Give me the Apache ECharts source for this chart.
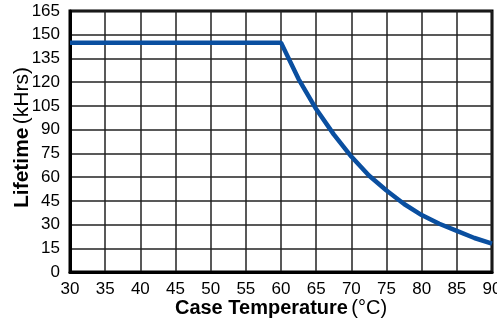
<!DOCTYPE html>
<html>
<head>
<meta charset="UTF-8">
<title>Lifetime vs Case Temperature</title>
<script src="https://cdn.jsdelivr.net/npm/echarts@6/dist/echarts.min.js"></script>
<style>
html, body { margin: 0; padding: 0; background: #fff; }
#main { width: 497px; height: 319px; }
</style>
</head>
<body>
<div id="main"></div>
<script>
// case temperature (°C) and lifetime (kHrs)
var temps = [30, 60, 62.5, 65, 67.5, 70, 72.5, 75, 77.5, 80, 82.5, 85, 87.5, 90];
var lifetime = [145, 145, 122, 103, 87, 73, 61, 51.5, 43, 36, 30.5, 26, 21.5, 18];

var pts = [];
for (var i = 0; i < temps.length; i++) {
	pts.push([temps[i], lifetime[i]]);
}

var myChart = echarts.init(document.getElementById('main'));
var option = {
	animation: false,
	grid: {
		left: 70,
		right: 5,
		top: 11,
		bottom: 47,
		containLabel: false,
		outerBoundsMode: 'none',
		show: true,
		borderColor: '#000',
		borderWidth: 3
	},
	xAxis: {
		type: 'value',
		min: 30,
		max: 90,
		interval: 5,
		name: '{b|Case Temperature} {n|(°C)}',
		nameLocation: 'middle',
		nameGap: 26,
		nameMoveOverlap: false,
		nameTextStyle: {
			verticalAlign: 'top',
			rich: {
				b: { fontFamily: 'Liberation Sans', fontWeight: 'bold', fontSize: 20, color: '#000' },
				n: { fontFamily: 'Liberation Sans', fontSize: 20, color: '#000' }
			}
		},
		axisLine: { lineStyle: { color: '#000', width: 3 } },
		axisTick: { show: false },
		axisLabel: { fontFamily: 'Liberation Sans', fontSize: 17, color: '#000', margin: 9, hideOverlap: false },
		splitLine: { lineStyle: { color: '#222', width: 1.5 } }
	},
	yAxis: {
		type: 'value',
		min: 0,
		max: 165,
		interval: 15,
		name: '{b|Lifetime} {n|(kHrs)}',
		nameLocation: 'middle',
		nameGap: 37,
		nameMoveOverlap: false,
		nameTextStyle: {
			padding: [0, 0, 0, 8],
			rich: {
				b: { fontFamily: 'Liberation Sans', fontWeight: 'bold', fontSize: 21, color: '#000' },
				n: { fontFamily: 'Liberation Sans', fontSize: 21, color: '#000' }
			}
		},
		axisLine: { show: true, lineStyle: { color: '#000', width: 3 } },
		axisTick: { show: false },
		axisLabel: { fontFamily: 'Liberation Sans', fontSize: 17, color: '#000', margin: 10 },
		splitLine: { lineStyle: { color: '#222', width: 1.5 } }
	},
	series: [{
		type: 'line',
		data: pts,
		showSymbol: false,
		smooth: false,
		lineStyle: { color: '#0a4fa0', width: 4.5 }
	}]
};
myChart.setOption(option);
</script>
</body>
</html>
